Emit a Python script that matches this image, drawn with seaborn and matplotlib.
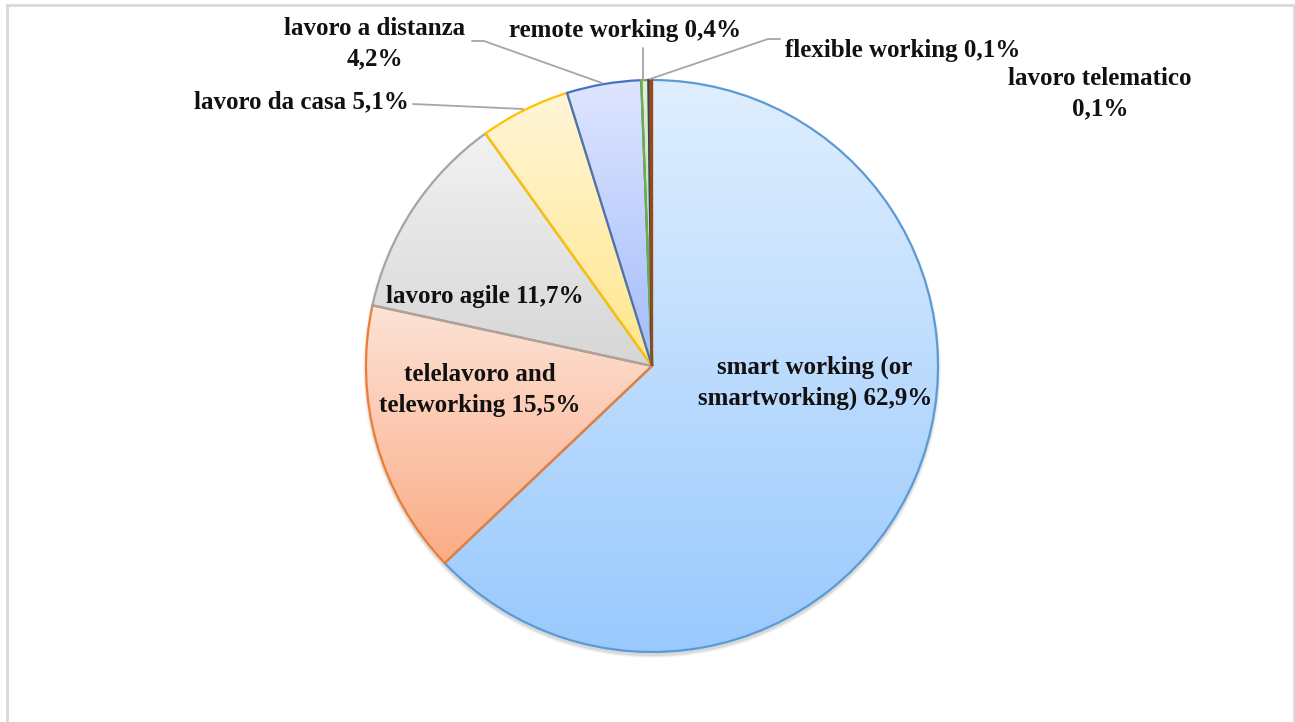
import numpy as np
import matplotlib.pyplot as plt
import matplotlib.colors as mcolors
from matplotlib.patches import Rectangle, Circle
import seaborn as sns

# data
labels = ["smart working (or\nsmartworking) 62,9%", "telelavoro and\nteleworking 15,5%",
          "lavoro agile 11,7%", "lavoro da casa 5,1%", "lavoro a distanza\n4,2%",
          "remote working 0,4%", "flexible working 0,1%", "lavoro telematico\n0,1%"]
shares = [62.9, 15.5, 11.7, 5.1, 4.2, 0.4, 0.1, 0.1]
edge_colors = ["#5B9BD5", "#ED7D31", "#A5A5A5", "#FFC000", "#4472C4", "#70AD47", "#264478", "#9E480E"]
top_colors = ["#E0EFFF", "#FDE3D6", "#F2F2F2", "#FFF6D8", "#DEE5FF", "#E2F0D9", "#C9D3EA", "#E8C3A8"]
bottom_colors = ["#99C9FD", "#FBAB85", "#D6D6D6", "#FFE68A", "#A4BCFB", "#A9D18E", "#7F96C8", "#C97A4A"]

W, H = 1295, 722
sns.set_theme(style="white")
plt.rcParams['font.family'] = ['Liberation Serif', 'DejaVu Serif']

fig = plt.figure(figsize=(W / 100, H / 100), dpi=100)
ax = fig.add_axes([0, 0, 1, 1])

cx, cy, r = 652, H - 366, 286

# soft shadow
for k, a in [(6, 0.03), (4, 0.05), (2, 0.07)]:
    ax.add_patch(Circle((cx, cy - 3), r + k / 2, color='black', alpha=a, lw=0, zorder=0.5))

wedges, _ = ax.pie(shares, startangle=90, counterclock=False, center=(cx, cy), radius=r,
                   frame=True, wedgeprops=dict(linewidth=1.6, facecolor='none'))

for w, ec, tc, bc in zip(wedges, edge_colors, top_colors, bottom_colors):
    w.set_edgecolor(ec)
    w.set_zorder(3)
    bb = w.get_path().get_extents()
    cmap = mcolors.LinearSegmentedColormap.from_list("g", [bc, tc])
    grad = np.linspace(0, 1, 256).reshape(-1, 1)
    im = ax.imshow(grad, cmap=cmap, origin='lower', aspect='auto',
                   extent=(bb.x0 - 1, bb.x1 + 1, bb.y0 - 1, bb.y1 + 1), zorder=2)
    im.set_clip_path(w)

ax.set_xlim(0, W)
ax.set_ylim(0, H)
ax.set_aspect('equal')
ax.axis('off')

kw = dict(fontsize=18, fontweight='bold', color='#111111', zorder=5, linespacing=1.4)
ax.text(815, H - 383, labels[0], ha='center', va='center', **kw)
ax.text(480, H - 390, labels[1], ha='center', va='center', **kw)
ax.text(485, H - 297, labels[2], ha='center', va='center', **kw)
ax.text(409, H - 102, labels[3], ha='right', va='center', **kw)
ax.text(375, H - 44, labels[4], ha='center', va='center', **kw)
ax.text(625, H - 31, labels[5], ha='center', va='center', **kw)
ax.text(785, H - 50, labels[6], ha='left', va='center', **kw)
ax.text(1100, H - 94, labels[7], ha='center', va='center', **kw)

# leader lines
lc = dict(color='#A6A6A6', lw=1.3, zorder=4)
ax.plot([413, 523], [H - 104, H - 109], **lc)
ax.plot([472, 484, 602], [H - 41, H - 41, H - 83], **lc)
ax.plot([643, 643], [H - 48, H - 80], **lc)
ax.plot([650, 768, 780], [H - 79, H - 39, H - 39], **lc)

# chart border
ax.add_patch(Rectangle((7, -10), W - 1 - 7, H - 5 + 10, fill=False, ec='#D9D9D9', lw=2, zorder=6))

fig.savefig("out.png", dpi=100)
